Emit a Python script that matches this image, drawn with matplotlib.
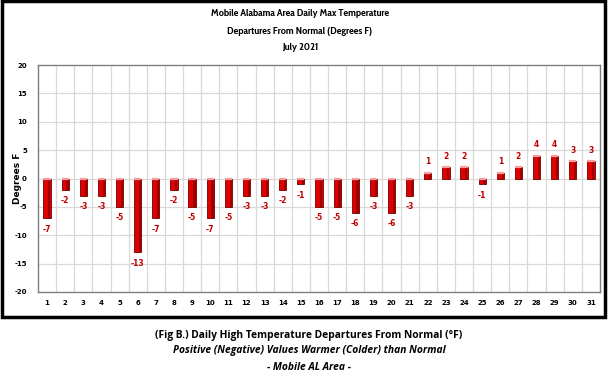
import matplotlib
matplotlib.use("Agg")
import matplotlib.pyplot as plt
from matplotlib.patches import Rectangle
import numpy as np

days = list(range(1, 32))
departures = [-7, -2, -3, -3, -5, -13, -7, -2, -5, -7, -5, -3, -3, -2, -1,
              -5, -5, -6, -3, -6, -3, 1, 2, 2, -1, 1, 2, 4, 4, 3, 3]
yticks = [-20, -15, -10, -5, 0, 5, 10, 15, 20]

W, H = 608, 380
fig = plt.figure(figsize=(W / 100, H / 100), dpi=100)
fig.patch.set_facecolor("white")

def px(x0, y0, x1, y1):
    return [x0 / W, 1 - y1 / H, (x1 - x0) / W, (y1 - y0) / H]

ax = fig.add_axes(px(38, 65, 600, 292))
ax.set_xlim(0.5, 31.5)
ax.set_ylim(-20, 20)

for b in np.arange(1.5, 31.5, 1):
    ax.axvline(b, color="#d9d9d9", lw=0.9, zorder=0)
for t in yticks[1:-1]:
    ax.axhline(t, color="#d9d9d9", lw=0.9, zorder=0)

bw = 0.4
vals = np.array(departures, dtype=float)
ax.bar(days, vals, width=bw, color="#e00000", edgecolor="#700000",
       linewidth=0.6, zorder=3)
ax.bar(np.array(days) + bw * 0.32, vals, width=bw * 0.3, color="#a00000",
       linewidth=0, zorder=4)
for d, v in zip(days, departures):
    top = max(0, v)
    ax.plot([d - bw / 2, d + bw / 2], [top, top], color="#f4a0a0", lw=1.6,
            zorder=5, solid_capstyle="butt")

for d, v in zip(days, departures):
    off = -8 if v < 0 else 8
    ax.annotate(str(v), (d, v), xytext=(0, off), textcoords="offset points",
                ha="center", va="center", fontsize=5.5, fontweight="bold",
                color="#c00000", zorder=6)

ax.set_xticks(days)
ax.set_xticklabels([str(d) for d in days], fontsize=5, fontweight="bold")
ax.set_yticks(yticks)
ax.set_yticklabels([str(t) for t in yticks], fontsize=5, fontweight="bold")
ax.tick_params(axis="both", length=0, pad=6)
ax.tick_params(axis="y", pad=8)
for s in ax.spines.values():
    s.set_color("#7f7f7f")
    s.set_linewidth(1.0)

fig.text(17 / W, 1 - 178 / H, "Degrees F", rotation=90, ha="center",
         va="center", fontsize=6.5, fontweight="bold")

tfont = ["Cabin Condensed", "Archivo Narrow", "DejaVu Sans"]
for y, s in [(14, "Mobile Alabama Area Daily Max Temperature"),
             (31, "Departures From Normal (Degrees F)"),
             (47, "July 2021")]:
    fig.text(300 / W, 1 - y / H, s, ha="center", va="center", fontsize=7.6,
             fontweight="bold", stretch="condensed", family=tfont)

fig.patches.append(Rectangle((2 / W, 1 - 317 / H), 603 / W, 316 / H,
                             transform=fig.transFigure, fill=False,
                             edgecolor="black", linewidth=2.5))

cfont = ["Open Sans", "DejaVu Sans"]
ckw = dict(ha="center", va="center", fontsize=7.4, fontweight="bold",
           stretch="normal", family=cfont)
fig.text(309 / W, 1 - 335 / H,
         "(Fig B.) Daily High Temperature Departures From Normal (°F)", **ckw)
fig.text(309 / W, 1 - 351 / H,
         "Positive (Negative) Values Warmer (Colder) than Normal",
         style="italic", **ckw)
fig.text(309 / W, 1 - 367 / H, "- Mobile AL Area -", style="italic", **ckw)

fig.savefig("out.png", dpi=100)
